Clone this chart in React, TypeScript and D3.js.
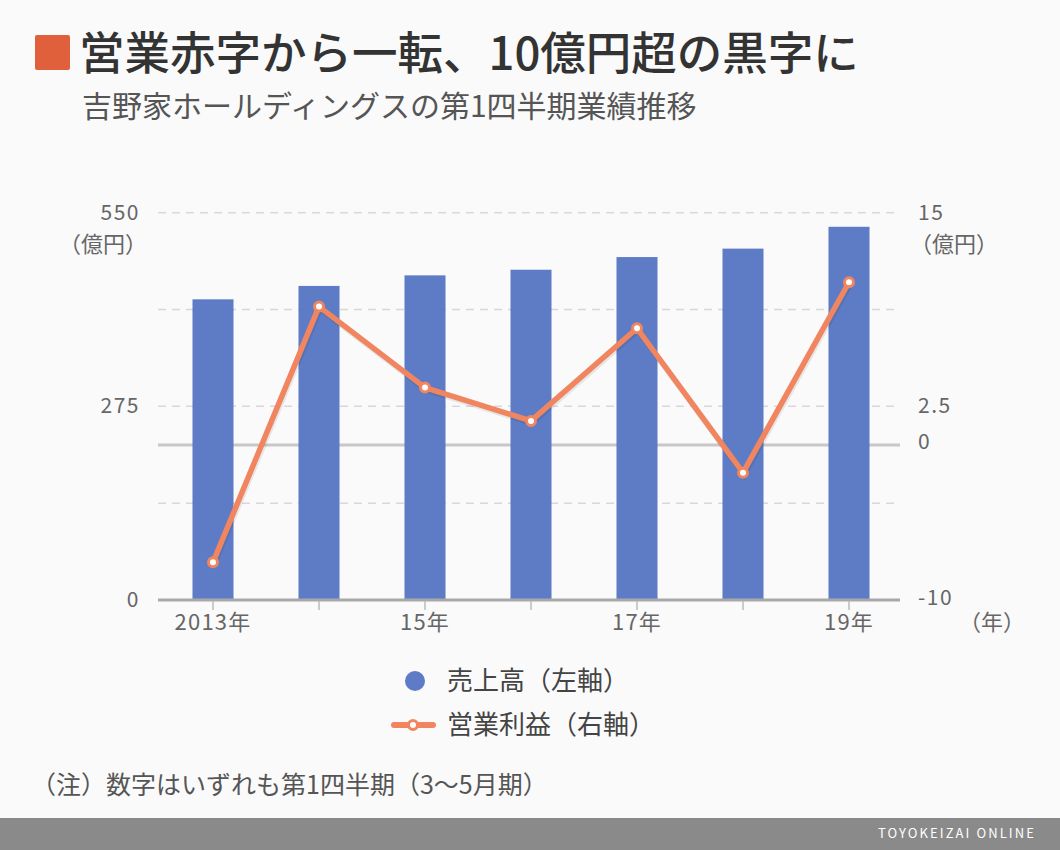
import React from "react";
import * as d3 from "d3";

const years = ["2013", "2014", "2015", "2016", "2017", "2018", "2019"];
const yearLabels = ["2013年", "", "15年", "", "17年", "", "19年"];
const sales = [427, 446, 461, 469, 487, 499, 530];
const profit = [-7.57, 8.94, 3.71, 1.56, 7.54, -1.78, 10.51];
const leftTicks = [0, 275, 550];
const rightTicks = [-10, 0, 2.5, 15];
const gridValues = [137.5, 275, 412.5, 550];

const title = "営業赤字から一転、10億円超の黒字に";
const subtitle = "吉野家ホールディングスの第1四半期業績推移";
const legendSales = "売上高（左軸）";
const legendProfit = "営業利益（右軸）";
const unitLabel = "（億円）";
const yearUnit = "（年）";
const note = "（注）数字はいずれも第1四半期（3〜5月期）";
const credit = "TOYOKEIZAI ONLINE";

const FONT = "'Noto Sans CJK JP', 'Noto Sans', Roboto, sans-serif";

export default function App() {
  const W = 1060;
  const H = 850;
  const x = d3.scaleBand<string>().domain(years).range([160, 902]).paddingInner(0.613).paddingOuter(0.3065);
  const yL = d3.scaleLinear().domain([0, 550]).range([600, 212.7]);
  const yR = d3.scaleLinear().domain([-10, 15]).range([600, 212.7]);
  const cx = (d: string) => (x(d) as number) + x.bandwidth() / 2;
  const line = d3
    .line<number>()
    .x((_, i) => cx(years[i]))
    .y((d) => yR(d));
  const lineColor = "#f0855f";
  const barColor = "#5d7cc5";
  const textGray = "#666";

  return (
    <svg
      width={W}
      height={H}
      style={{ position: "absolute", left: 0, top: 0, fontFamily: FONT }}
    >
      <rect x={0} y={0} width={W} height={H} fill="#fafafa" />
      {/* title */}
      <rect x={35} y={35} width={35} height={35} rx={2} fill="#e0603c" />
      <text x={79} y={70} fontSize={45.5} fill="#333" fontWeight={500}>
        {title}
      </text>
      <text x={82} y={117} fontSize={30} fill="#555">
        {subtitle}
      </text>

      {/* grid */}
      {gridValues.map((v) => (
        <line
          key={v}
          x1={158}
          x2={898}
          y1={yL(v)}
          y2={yL(v)}
          stroke="#d8d8d8"
          strokeWidth={1.5}
          strokeDasharray="8,6"
        />
      ))}
      <line x1={158} x2={900} y1={yR(0)} y2={yR(0)} stroke="#c8c8c8" strokeWidth={3} />

      {/* bars */}
      {years.map((yr, i) => (
        <rect
          key={yr}
          x={x(yr)}
          y={yL(sales[i])}
          width={x.bandwidth()}
          height={yL(0) - yL(sales[i])}
          fill={barColor}
        />
      ))}

      {/* x axis */}
      <line x1={158} x2={900} y1={600} y2={600} stroke="#a8a8a8" strokeWidth={3} />
      {years.map((yr, i) => (
        <g key={"t" + yr}>
          <line x1={cx(yr)} x2={cx(yr)} y1={601} y2={610} stroke="#bbb" strokeWidth={1.5} />
          {yearLabels[i] && (
            <text x={cx(yr)} y={630} textAnchor="middle" fontSize={22} fill={textGray} letterSpacing={1.2}>
              {yearLabels[i]}
            </text>
          )}
        </g>
      ))}
      <text x={959} y={630} fontSize={22} fill={textGray}>
        {yearUnit}
      </text>

      {/* left axis labels */}
      {leftTicks.map((v) => (
        <text key={"l" + v} x={140} y={yL(v) + 7} textAnchor="end" fontSize={21} fill={textGray} letterSpacing={1.5}>
          {v}
        </text>
      ))}
      <text x={147} y={252} textAnchor="end" fontSize={22} fill={textGray}>
        {unitLabel}
      </text>

      {/* right axis labels */}
      {rightTicks.map((v) => (
        <text
          key={"r" + v}
          x={918}
          y={(v === 0 ? yR(v) - 3 : v === -10 ? yR(v) - 2 : yR(v)) + 7}
          fontSize={21}
          fill={textGray}
          letterSpacing={1.5}
        >
          {v}
        </text>
      ))}
      <text x={910} y={252} fontSize={22} fill={textGray}>
        {unitLabel}
      </text>

      {/* line */}
      <path d={line(profit) || ""} fill="none" stroke="#000" strokeOpacity={0.08} strokeWidth={6} transform="translate(1,2)" />
      <path d={line(profit) || ""} fill="none" stroke={lineColor} strokeWidth={5.5} strokeLinejoin="round" />
      {profit.map((v, i) => (
        <circle key={"p" + i} cx={cx(years[i])} cy={yR(v)} r={4.5} fill="#fff" stroke={lineColor} strokeWidth={3} />
      ))}

      {/* legend */}
      <circle cx={415} cy={681} r={10} fill={barColor} />
      <text x={447} y={690} fontSize={26} fill="#444">
        {legendSales}
      </text>
      <line x1={394} x2={433} y1={725} y2={725} stroke={lineColor} strokeWidth={6} strokeLinecap="round" />
      <circle cx={413} cy={725} r={4.5} fill="#fff" stroke={lineColor} strokeWidth={3} />
      <text x={447} y={734} fontSize={26} fill="#444">
        {legendProfit}
      </text>

      {/* note */}
      <text x={31} y={794} fontSize={25} fill="#555">
        {note}
      </text>

      {/* footer */}
      <rect x={0} y={818} width={W} height={32} fill="#8a8a8a" />
      <text x={1036} y={838} textAnchor="end" fontSize={13} fill="#fff" letterSpacing={2.1}>
        {credit}
      </text>
    </svg>
  );
}
